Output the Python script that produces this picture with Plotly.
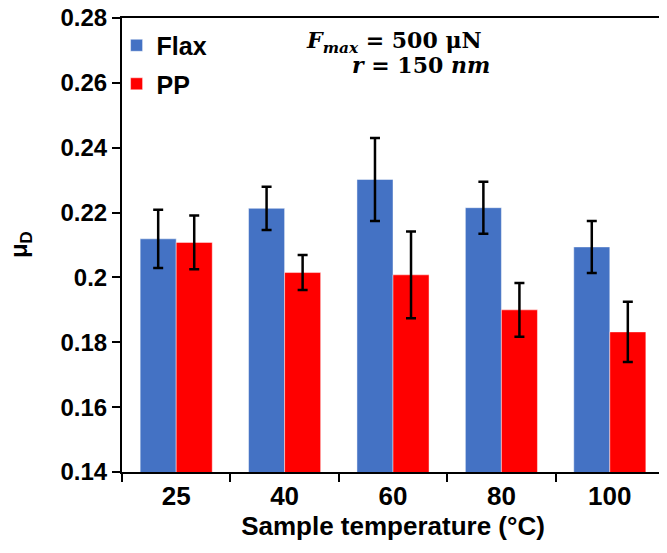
import plotly.graph_objects as go

categories = ["25", "40", "60", "80", "100"]
flax_values = [0.2119, 0.2213, 0.2302, 0.2215, 0.2094]
flax_errors = [0.0090, 0.0067, 0.0128, 0.0080, 0.0080]
pp_values = [0.2108, 0.2015, 0.2008, 0.1900, 0.1832]
pp_errors = [0.0083, 0.0054, 0.0134, 0.0083, 0.0093]
y_ticks = [0.14, 0.16, 0.18, 0.20, 0.22, 0.24, 0.26, 0.28]

FONT = "Liberation Sans, Arial, sans-serif"
MATH = "DejaVu Serif, serif"

fig = go.Figure()
fig.add_trace(go.Bar(
    x=categories, y=flax_values, name="Flax", legendgroup="a",
    marker=dict(color="#4472C4", line=dict(color="rgba(255,255,255,0.45)", width=1)),
    error_y=dict(type="data", array=flax_errors, visible=True, color="black", thickness=2.5, width=5),
))
fig.add_trace(go.Bar(
    x=categories, y=pp_values, name="PP", legendgroup="b",
    marker=dict(color="#FF0000", line=dict(color="rgba(255,255,255,0.45)", width=1)),
    error_y=dict(type="data", array=pp_errors, visible=True, color="black", thickness=2.5, width=5),
))

# page body has an 8px default margin; compensate so the plot lands where the reference has it
fig.update_layout(
    width=659, height=545,
    margin=dict(l=114, r=3, t=10, b=81),
    paper_bgcolor="white", plot_bgcolor="white",
    barmode="group", bargap=0.335, bargroupgap=0,
    font=dict(family=FONT, size=25, color="black", weight="bold"),
    legend=dict(x=-0.01, y=0.99, xanchor="left", yanchor="top",
                font=dict(family=FONT, size=25, color="black", weight="bold"),
                bgcolor="rgba(0,0,0,0)", tracegroupgap=3, traceorder="grouped",
                itemwidth=30),
    showlegend=True,
)
fig.update_yaxes(
    range=[0.14, 0.28], tickvals=y_ticks,
    ticks="outside", ticklen=8, tickwidth=2, tickcolor="black",
    showline=True, linecolor="black", linewidth=2, mirror=True,
    showgrid=False, zeroline=False, automargin=False, ticklabeloverflow="allow",
    tickfont=dict(family=FONT, size=24, color="black", weight="bold"),
)
fig.update_xaxes(
    ticks="outside", ticklen=8, tickwidth=2, tickcolor="black", tickson="boundaries",
    showline=True, linecolor="black", linewidth=2, mirror=True,
    showgrid=False, automargin=False, ticklabeloverflow="allow",
    tickfont=dict(family=FONT, size=26, color="black", weight="bold"),
    title=dict(text="Sample temperature (°C)", font=dict(family=FONT, size=26, color="black", weight="bold"), standoff=6),
)

# y-axis title as a rotated annotation placed in the left margin
fig.add_annotation(
    x=-0.188, y=0.5, xref="paper", yref="paper", xanchor="center", yanchor="middle",
    showarrow=False, textangle=-90,
    text="μ<sub>D</sub>",
    font=dict(family=FONT, size=24, color="black", weight="bold"),
)
fig.add_annotation(
    x=0.668, y=0.947, xref="paper", yref="paper", xanchor="right", yanchor="middle",
    showarrow=False,
    text="<i>F</i><sub><i>max</i></sub> = 500 μN",
    font=dict(family=MATH, size=22, color="black", weight="bold"),
)
fig.add_annotation(
    x=0.683, y=0.897, xref="paper", yref="paper", xanchor="right", yanchor="middle",
    showarrow=False,
    text="<i>r</i> = 150 <i>nm</i>",
    font=dict(family=MATH, size=22, color="black", weight="bold"),
)

fig.write_html("out.html")
